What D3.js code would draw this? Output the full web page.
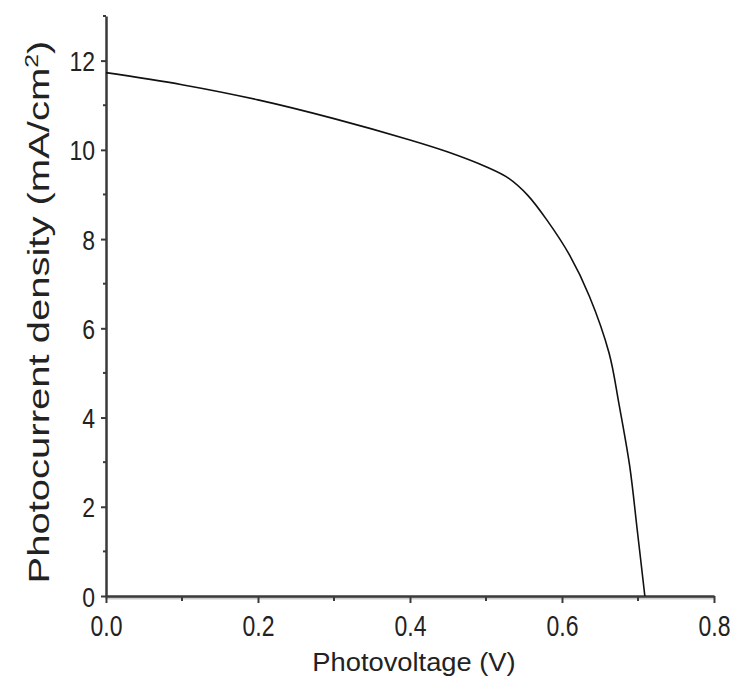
<!DOCTYPE html>
<meta charset="utf-8">
<head>
<style>
  body { margin: 0; background: #fff; }
  text { font-family: "Liberation Sans", Arial, sans-serif; fill: #222; }
</style>
</head>
<script src="https://d3js.org/d3.v7.min.js"></script>
<div id="chart"></div>
<script>
// J-V curve
var voltage = [0.0, 0.1, 0.2, 0.3, 0.4, 0.45, 0.5, 0.53, 0.555, 0.58, 0.61, 0.636, 0.662, 0.675, 0.689, 0.699, 0.709];
var current = [11.73, 11.46, 11.12, 10.70, 10.22, 9.95, 9.62, 9.36, 8.98, 8.43, 7.64, 6.72, 5.44, 4.30, 2.92, 1.48, 0.0];
var xTicks = [0.0, 0.2, 0.4, 0.6, 0.8];
var xMinor = [0.1, 0.3, 0.5, 0.7];
var yTicks = [0, 2, 4, 6, 8, 10, 12];
var yMinor = [1, 3, 5, 7, 9, 11, 13];

var W = 731, H = 684;
var svg = d3.select("#chart").append("svg")
  .attr("width", W).attr("height", H);

var x = d3.scaleLinear().domain([0, 0.8]).range([106, 714]);
var y = d3.scaleLinear().domain([0, 13]).range([596, 16]);

var axisColor = "#3a3a3a";

// x axis
var gx = svg.append("g").attr("transform", "translate(0," + y(0) + ")");
gx.append("line").attr("x1", x(0) - 1).attr("x2", x(0.8) + 1)
  .attr("y1", 2).attr("y2", 2).attr("stroke", "#ccc").attr("stroke-width", 3);
gx.call(d3.axisBottom(x).tickValues(xTicks).tickSize(7).tickSizeOuter(0)
  .tickFormat(d3.format(".1f")));
gx.selectAll("line.minor").data(xMinor).enter().append("line")
  .attr("class", "minor")
  .attr("x1", function(d){ return x(d); }).attr("x2", function(d){ return x(d); })
  .attr("y1", 0).attr("y2", 5).attr("stroke", axisColor).attr("stroke-width", 2);

// y axis
var gy = svg.append("g").attr("transform", "translate(" + x(0) + ",0)");
gy.call(d3.axisLeft(y).tickValues(yTicks).tickSize(5).tickSizeOuter(0));
gy.selectAll("line.minor").data(yMinor).enter().append("line")
  .attr("class", "minor")
  .attr("x1", 0).attr("x2", -3)
  .attr("y1", function(d){ return y(d); }).attr("y2", function(d){ return y(d); })
  .attr("stroke", axisColor).attr("stroke-width", 2);

svg.selectAll(".domain").attr("stroke", axisColor).attr("stroke-width", 2.5);
svg.selectAll(".tick line").attr("stroke", axisColor).attr("stroke-width", 2);
svg.selectAll(".tick text").style("font-size", "23px").attr("fill", "#222")
  .style("font-family", "Liberation Sans, Arial, sans-serif");
// tick labels in the scan are a bit taller than wide
gx.selectAll(".tick text").attr("y", 0).attr("dy", 0)
  .attr("transform", "translate(0,40) scale(1,1.3)");
gy.selectAll(".tick text").attr("x", 0).attr("dy", 0)
  .attr("transform", "translate(-11,10) scale(1,1.2)");

// curve
var line = d3.line()
  .x(function(d, i){ return x(voltage[i]); })
  .y(function(d, i){ return y(current[i]); })
  .curve(d3.curveCatmullRom.alpha(0.5));
svg.append("path").datum(voltage)
  .attr("d", line).attr("fill", "none")
  .attr("stroke", "#111").attr("stroke-width", 1.6);

// axis titles
svg.append("text")
  .attr("transform", "translate(414,671) scale(1.05,1.02)")
  .attr("text-anchor", "middle").style("font-size", "26px")
  .text("Photovoltage (V)");

var yt = svg.append("text")
  .attr("transform", "translate(49,312) rotate(-90) scale(1.38,1.02)")
  .attr("text-anchor", "middle").style("font-size", "29px");
yt.append("tspan").text("Photocurrent density (mA/cm");
yt.append("tspan").attr("dy", -11).style("font-size", "18px").text("2");
yt.append("tspan").attr("dy", 11).text(")");
</script>
